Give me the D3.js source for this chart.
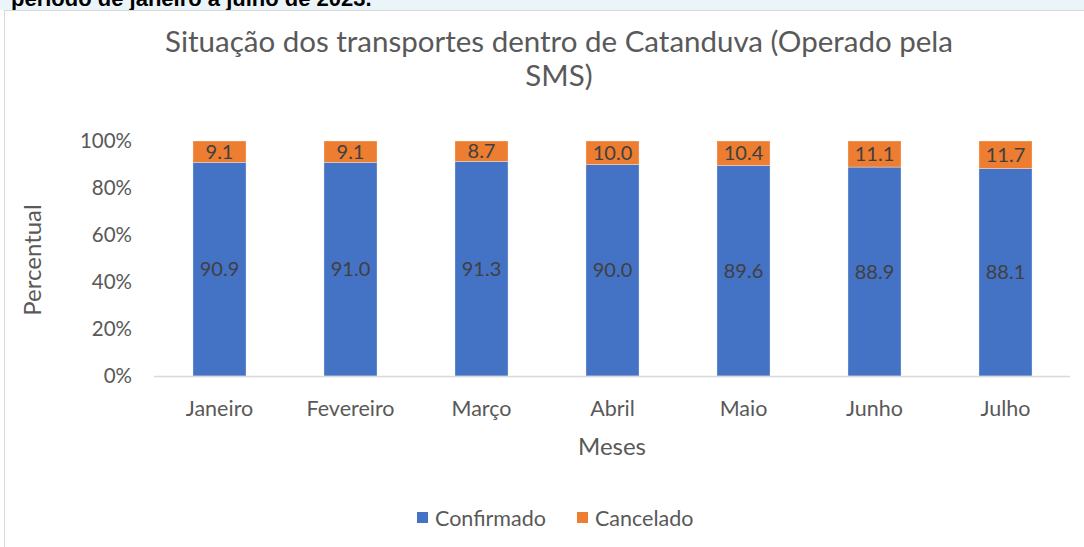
<!DOCTYPE html>
<html>
<head>
  <meta charset="utf-8">
  <style>
    body { margin:0; background:#fff; font-family: Lato, "Open Sans", sans-serif; }
    .tick-label { fill:#595959; }
    .data-label { fill:#404040; font-size:20px; }
  </style>
  <script src="https://cdn.jsdelivr.net/npm/d3@7"></script>
</head>
<body>
<div class="chart"></div>
<script>
const months = ['Janeiro','Fevereiro','Março','Abril','Maio','Junho','Julho'];
const confirmado = [90.9, 91.0, 91.3, 90.0, 89.6, 88.9, 88.1];
const cancelado  = [9.1, 9.1, 8.7, 10.0, 10.4, 11.1, 11.7];
const seriesNames = ['Confirmado','Cancelado'];
const yTicks = [0, 0.2, 0.4, 0.6, 0.8, 1];

const width = 1084, height = 547;
const colours = d3.scaleOrdinal().domain(seriesNames).range(['#4472c4','#ed7d31']);

const svg = d3.select('.chart').append('svg')
  .attr('width', width).attr('height', height);

// header strip with the caption text cut off at the top
svg.append('rect').attr('x',0).attr('y',0).attr('width',width).attr('height',10).attr('fill','#eaf4f9');
svg.append('text')
  .attr('x', 11).attr('y', 6)
  .attr('font-weight','bold').attr('font-size', 22).attr('fill','#000')
  .style('font-family','"Liberation Sans", Arial, sans-serif')
  .text('período de janeiro a julho de 2023.');
svg.append('rect').attr('x',4.5).attr('y',10.5).attr('width',width).attr('height',height)
  .attr('fill','#fff').attr('stroke','#d9d9d9');

const x = d3.scaleBand().domain(months).range([154, 1071]).paddingInner(0.595).paddingOuter(0.2975);
const y = d3.scaleLinear().domain([0,1]).range([376, 141]);

const rows = months.map((m,i)=>{
  const tot = confirmado[i] + cancelado[i];
  return {month:m, Confirmado:confirmado[i], Cancelado:cancelado[i], tot:tot};
});
const stack = d3.stack().keys(seriesNames).value((d,k)=>d[k]/d.tot);
const stacked = stack(rows);

// title
svg.append('text').attr('x', 559).attr('y', 52).attr('text-anchor','middle')
  .attr('fill','#595959').attr('font-size', 29.5)
  .text('Situação dos transportes dentro de Catanduva (Operado pela');
svg.append('text').attr('x', 559).attr('y', 86).attr('text-anchor','middle')
  .attr('fill','#595959').attr('font-size', 29.5)
  .text('SMS)');

// bars
const layer = svg.append('g').selectAll('g').data(stacked).enter().append('g')
  .attr('fill', d=>colours(d.key));
layer.selectAll('rect').data(d=>d).enter().append('rect')
  .attr('x', d=>x(d.data.month))
  .attr('width', x.bandwidth())
  .attr('y', d=>y(d[1]))
  .attr('height', d=>y(d[0]) - y(d[1]))
  .attr('stroke','#ffffff').attr('stroke-opacity',0.4).attr('stroke-width',0.8);

layer.each(function(s){
  d3.select(this).selectAll('text.data-label').data(s).enter().append('text')
    .attr('class','data-label')
    .attr('x', d=>x(d.data.month) + x.bandwidth()/2)
    .attr('y', d=>(y(d[0]) + y(d[1]))/2)
    .attr('dy','0.36em')
    .attr('text-anchor','middle')
    .text(d=>d.data[s.key].toFixed(1));
});

// x axis
svg.append('line').attr('x1',154).attr('x2',1070).attr('y1',376.5).attr('y2',376.5)
  .attr('stroke','#d9d9d9').attr('stroke-width',1.5);
svg.append('g').selectAll('text').data(months).enter().append('text')
  .attr('class','tick-label').attr('font-size', 21.5)
  .attr('x', d=>x(d) + x.bandwidth()/2).attr('y', 416)
  .attr('text-anchor','middle').text(d=>d);

// y axis
svg.append('g').selectAll('text').data(yTicks).enter().append('text')
  .attr('class','tick-label').attr('font-size', 20.5)
  .attr('x', 132).attr('y', d=>y(d)).attr('dy','0.36em')
  .attr('text-anchor','end').text(d3.format('.0%'));

// axis titles
svg.append('text').attr('x', 612).attr('y', 455).attr('text-anchor','middle')
  .attr('fill','#595959').attr('font-size', 24).text('Meses');
svg.append('text').attr('transform','translate(41,260) rotate(-90)').attr('text-anchor','middle')
  .attr('fill','#595959').attr('font-size', 24).text('Percentual');

// legend
const legend = svg.append('g').selectAll('g').data(seriesNames).enter().append('g')
  .attr('transform',(d,i)=>`translate(${[417,577][i]}, 512)`);
legend.append('rect').attr('width',11).attr('height',11).attr('fill', d=>colours(d));
legend.append('text').attr('x',18).attr('y',6).attr('dy','0.36em')
  .attr('fill','#595959').attr('font-size',21.5).text(d=>d);
</script>
</body>
</html>
